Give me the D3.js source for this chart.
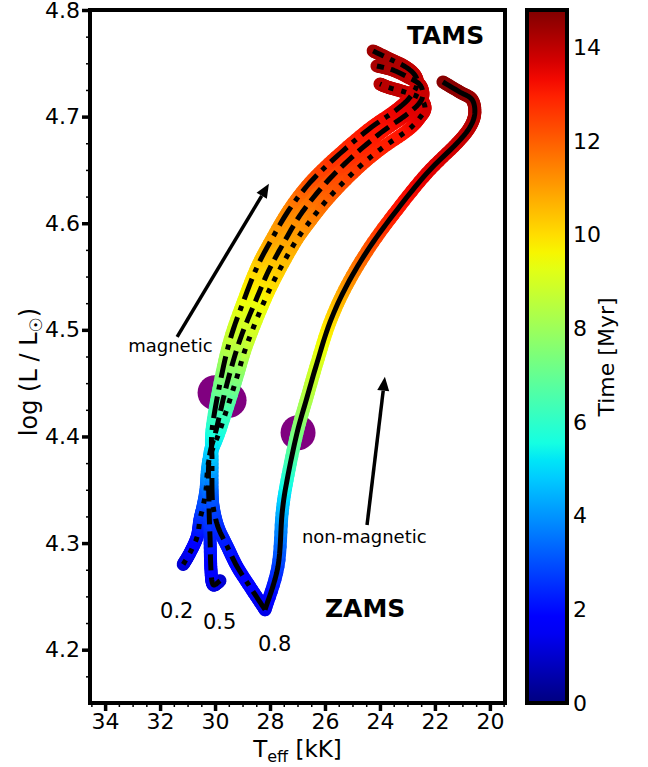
<!DOCTYPE html>
<html>
<head>
<meta charset="utf-8">
<script src="https://cdn.jsdelivr.net/npm/d3@7"></script>
<style>
  body { margin: 0; background: #fff; }
  text { font-family: "DejaVu Sans", sans-serif; fill: #000; }
</style>
</head>
<body>
<svg id="chart" width="648" height="767"></svg>
<script>
// ---- data: Teff [kK], log L, age [Myr] ----
var nonmagT   = [28.18, 27.71, 27.56, 27.38, 27.02, 26.65, 26.29, 25.82, 25.20, 24.36, 23.38, 22.29, 21.20, 20.73, 20.55, 20.65, 21.09, 21.71];
var nonmagL   = [4.2375, 4.278, 4.328, 4.359, 4.403, 4.437, 4.469, 4.507, 4.542, 4.578, 4.6125, 4.647, 4.675, 4.690, 4.703, 4.716, 4.723, 4.7325];
var nonmagAge = [1.2, 2.6, 4.3, 5.6, 7.3, 8.3, 9.0, 9.9, 11.0, 12.1, 13.1, 13.5, 13.8, 14.0, 14.2, 14.4, 14.6, 14.7];

// 0.2 (dotted)
var mag02T   = [31.16, 30.91, 30.65, 30.55, 30.44, 30.33, 30.22, 29.82, 29.27, 28.87, 28.29, 27.78, 27.09, 26.51, 25.82, 24.87, 24.00, 22.98, 22.55, 22.36, 22.55, 23.09, 23.64, 24.00];
var mag02L   = [4.280, 4.291, 4.306, 4.322, 4.334, 4.350, 4.378, 4.406, 4.450, 4.484, 4.522, 4.550, 4.582, 4.603, 4.625, 4.650, 4.669, 4.6875, 4.699, 4.708, 4.7175, 4.723, 4.727, 4.7306];
var mag02Age = [1.0, 1.4, 1.9, 2.4, 2.8, 3.2, 4.5, 5.6, 7.2, 8.6, 9.4, 10.1, 10.8, 11.3, 11.9, 12.5, 12.9, 13.2, 13.5, 13.7, 13.8, 13.9, 14.0, 14.1];

// 0.5 (dashed)
var mag05T   = [29.82, 30.07, 30.15, 30.18, 30.22, 30.22, 29.96, 29.56, 29.09, 28.51, 28.04, 27.45, 26.84, 25.96, 25.02, 23.96, 23.13, 22.62, 22.44, 22.55, 22.98, 23.56, 24.11];
var mag05L   = [4.2647, 4.261, 4.275, 4.303, 4.336, 4.378, 4.406, 4.450, 4.491, 4.528, 4.556, 4.584, 4.610, 4.638, 4.662, 4.685, 4.700, 4.711, 4.720, 4.730, 4.737, 4.744, 4.7475];
var mag05Age = [1.0, 1.2, 1.6, 2.2, 2.9, 4.5, 5.6, 7.2, 8.6, 9.4, 10.1, 10.8, 11.3, 12.1, 12.7, 13.1, 13.4, 13.6, 13.8, 13.9, 14.0, 14.1, 14.3];

// 0.8 (dash-dot)
var mag08T   = [28.18, 28.73, 29.20, 29.56, 29.89, 30.07, 30.11, 30.11, 30.11, 29.82, 29.45, 28.95, 28.47, 27.96, 27.31, 26.55, 25.60, 24.44, 23.42, 22.91, 22.65, 22.73, 23.09, 23.64, 24.25];
var mag08L   = [4.2375, 4.259, 4.278, 4.297, 4.315, 4.334, 4.350, 4.378, 4.406, 4.450, 4.491, 4.528, 4.559, 4.584, 4.6125, 4.638, 4.662, 4.6875, 4.706, 4.718, 4.730, 4.739, 4.747, 4.754, 4.7616];
var mag08Age = [1.3, 1.6, 1.8, 2.1, 2.4, 2.8, 3.2, 4.5, 5.6, 7.2, 8.6, 9.4, 10.1, 10.8, 11.3, 12.1, 12.7, 13.1, 13.4, 13.6, 13.8, 13.9, 14.0, 14.2, 14.4];

// purple markers
var markT = [30.00, 29.71, 29.49, 26.98];
var markL = [4.441, 4.437, 4.434, 4.4035];

var xMajor = [34, 32, 30, 28, 26, 24, 22, 20];
var yMajor = [4.2, 4.3, 4.4, 4.5, 4.6, 4.7, 4.8];
var cbTicks = [0, 2, 4, 6, 8, 10, 12, 14];

var trackLabels = [
  {text: "0.2", T: 32.00, L: 4.230},
  {text: "0.5", T: 30.44, L: 4.219},
  {text: "0.8", T: 28.44, L: 4.199}
];

var svg = d3.select("#chart");
var x = d3.scaleLinear().domain([34.55, 19.45]).range([90, 505]);
var y = d3.scaleLinear().domain([4.15, 4.8]).range([703, 10]);
var cb = d3.scaleLinear().domain([0, 14.8]).range([703, 10]);

// matplotlib jet
var jetR = d3.scaleLinear().domain([0, 0.35, 0.66, 0.89, 1]).range([0, 0, 1, 1, 0.5]).clamp(true);
var jetG = d3.scaleLinear().domain([0, 0.125, 0.375, 0.64, 0.91, 1]).range([0, 0, 1, 1, 0, 0]).clamp(true);
var jetB = d3.scaleLinear().domain([0, 0.11, 0.34, 0.65, 1]).range([0.5, 1, 1, 0, 0]).clamp(true);
function jet(age) {
  var u = age / 14.8;
  return d3.rgb(255 * jetR(u), 255 * jetG(u), 255 * jetB(u)).toString();
}

// catmull-rom through the pixel positions, age interpolated along
function densify(T, L, age, n) {
  var p = T.map(function (d, i) { return [x(d), y(L[i])]; });
  var out = [];
  for (var i = 0; i < p.length - 1; i++) {
    var p0 = p[Math.max(i - 1, 0)], p1 = p[i], p2 = p[i + 1], p3 = p[Math.min(i + 2, p.length - 1)];
    for (var k = 0; k < n; k++) {
      var s = k / n, s2 = s * s, s3 = s2 * s;
      var c = [0, 1].map(function (j) {
        return 0.5 * (2 * p1[j] + (-p0[j] + p2[j]) * s + (2 * p0[j] - 5 * p1[j] + 4 * p2[j] - p3[j]) * s2 +
          (-p0[j] + 3 * p1[j] - 3 * p2[j] + p3[j]) * s3);
      });
      out.push({x: c[0], y: c[1], age: age[i] + (age[i + 1] - age[i]) * s});
    }
  }
  out.push({x: p[p.length - 1][0], y: p[p.length - 1][1], age: age[age.length - 1]});
  return out;
}

var tracks = [
  {pts: densify(nonmagT, nonmagL, nonmagAge, 8), dash: null},
  {pts: densify(mag02T, mag02L, mag02Age, 8), dash: "5,8"},
  {pts: densify(mag05T, mag05L, mag05Age, 8), dash: "16,7"},
  {pts: densify(mag08T, mag08L, mag08Age, 8), dash: "22,7,5,7"}
];

var plot = svg.append("g");

// markers under the tracks
plot.selectAll(".mark").data(markT).enter().append("circle")
  .attr("cx", function (d) { return x(d); })
  .attr("cy", function (d, i) { return y(markL[i]); })
  .attr("r", 17.5)
  .attr("fill", "#800080");

// coloured lines
tracks.forEach(function (tr) {
  var segs = d3.pairs(tr.pts);
  plot.append("g").selectAll("line").data(segs).enter().append("line")
    .attr("x1", function (d) { return d[0].x; })
    .attr("y1", function (d) { return d[0].y; })
    .attr("x2", function (d) { return d[1].x; })
    .attr("y2", function (d) { return d[1].y; })
    .attr("stroke", function (d) { return jet((d[0].age + d[1].age) / 2); })
    .attr("stroke-width", 13)
    .attr("stroke-linecap", "round");
});

// black line styles on top
var line = d3.line().x(function (d) { return d.x; }).y(function (d) { return d.y; });
tracks.forEach(function (tr) {
  plot.append("path")
    .attr("d", line(tr.pts))
    .attr("fill", "none")
    .attr("stroke", "#000")
    .attr("stroke-width", 5)
    .attr("stroke-dasharray", tr.dash)
    .attr("stroke-linejoin", "round");
});

// arrows
function arrow(T0, L0, T1, L1) {
  var x0 = x(T0), y0 = y(L0), x1 = x(T1), y1 = y(L1);
  var a = Math.atan2(y1 - y0, x1 - x0), hl = 14, hw = 6;
  var bx = x1 - hl * Math.cos(a), by = y1 - hl * Math.sin(a);
  plot.append("line").attr("x1", x0).attr("y1", y0).attr("x2", bx).attr("y2", by)
    .attr("stroke", "#000").attr("stroke-width", 3.5);
  plot.append("path")
    .attr("d", "M" + x1 + "," + y1 +
      "L" + (bx + hw * Math.sin(a)) + "," + (by - hw * Math.cos(a)) +
      "L" + (bx - hw * Math.sin(a)) + "," + (by + hw * Math.cos(a)) + "Z")
    .attr("fill", "#000");
}
arrow(31.38, 4.4935, 28.04, 4.637);
arrow(24.47, 4.317, 23.82, 4.456);

plot.append("text").attr("x", x(33.16)).attr("y", y(4.479)).style("font-size", "18px").text("magnetic");
plot.append("text").attr("x", x(26.84)).attr("y", y(4.300)).style("font-size", "18px").text("non-magnetic");
plot.append("text").attr("x", x(23.02)).attr("y", y(4.768)).style("font-size", "25px").style("font-weight", "bold").text("TAMS");
plot.append("text").attr("x", x(26.0)).attr("y", y(4.231)).style("font-size", "25px").style("font-weight", "bold").text("ZAMS");
plot.selectAll(".tl").data(trackLabels).enter().append("text")
  .attr("x", function (d) { return x(d.T); })
  .attr("y", function (d) { return y(d.L); })
  .style("font-size", "21px")
  .text(function (d) { return d.text; });

// axes
function styleAxis(g, w) {
  g.select(".domain").remove();
  g.selectAll(".tick line").attr("stroke", "#000").attr("stroke-width", w);
  g.selectAll("text").style("font-size", "22px").attr("fill", "#000");
}
var xMinor = d3.range(19.5, 34.55, 0.5).filter(function (v) { return v % 2 !== 0; });
var yMinor = d3.range(4.175, 4.8, 0.025).filter(function (v) { return Math.abs(v * 10 - Math.round(v * 10)) > 0.01; });

svg.append("g").attr("transform", "translate(0,703)")
  .call(d3.axisBottom(x).tickValues(xMinor).tickSize(4).tickFormat(""))
  .call(styleAxis, 1.5);
svg.append("g").attr("transform", "translate(0,703)")
  .call(d3.axisBottom(x).tickValues(xMajor).tickSize(8).tickPadding(2).tickFormat(d3.format("d")))
  .call(styleAxis, 3.5);
svg.append("g").attr("transform", "translate(90,0)")
  .call(d3.axisLeft(y).tickValues(yMinor).tickSize(4).tickFormat(""))
  .call(styleAxis, 1.5);
svg.append("g").attr("transform", "translate(90,0)")
  .call(d3.axisLeft(y).tickValues(yMajor).tickSize(8).tickPadding(2).tickFormat(d3.format(".1f")))
  .call(styleAxis, 3.5);

svg.append("rect").attr("x", 90).attr("y", 10).attr("width", 415).attr("height", 693)
  .attr("fill", "none").attr("stroke", "#000").attr("stroke-width", 4);

// axis labels
var xl = svg.append("text").attr("x", 297.5).attr("y", 757).attr("text-anchor", "middle").style("font-size", "23px");
xl.append("tspan").text("T");
xl.append("tspan").attr("dy", 5).style("font-size", "16px").text("eff");
xl.append("tspan").attr("dy", -5).text(" [kK]");

var yl = svg.append("text").attr("transform", "translate(37,372) rotate(-90)").attr("text-anchor", "middle").style("font-size", "24px");
yl.append("tspan").text("log (L / L");
yl.append("tspan").attr("dy", 5).style("font-size", "17px").text("\u2609");
yl.append("tspan").attr("dy", -5).text(")");

// colorbar
var defs = svg.append("defs");
var grad = defs.append("linearGradient").attr("id", "jetgrad")
  .attr("x1", 0).attr("y1", 1).attr("x2", 0).attr("y2", 0);
grad.selectAll("stop").data(d3.range(0, 14.81, 0.37)).enter().append("stop")
  .attr("offset", function (d) { return d / 14.8; })
  .attr("stop-color", function (d) { return jet(d); });
svg.append("rect").attr("x", 527).attr("y", 10).attr("width", 40).attr("height", 693)
  .attr("fill", "url(#jetgrad)").attr("stroke", "#000").attr("stroke-width", 4);
svg.append("g").attr("transform", "translate(567,0)")
  .call(d3.axisRight(cb).tickValues(cbTicks).tickSize(0).tickPadding(6))
  .call(styleAxis, 0);
svg.append("text").attr("transform", "translate(614,357) rotate(-90)").attr("text-anchor", "middle")
  .style("font-size", "22px").text("Time [Myr]");
</script>
</body>
</html>
